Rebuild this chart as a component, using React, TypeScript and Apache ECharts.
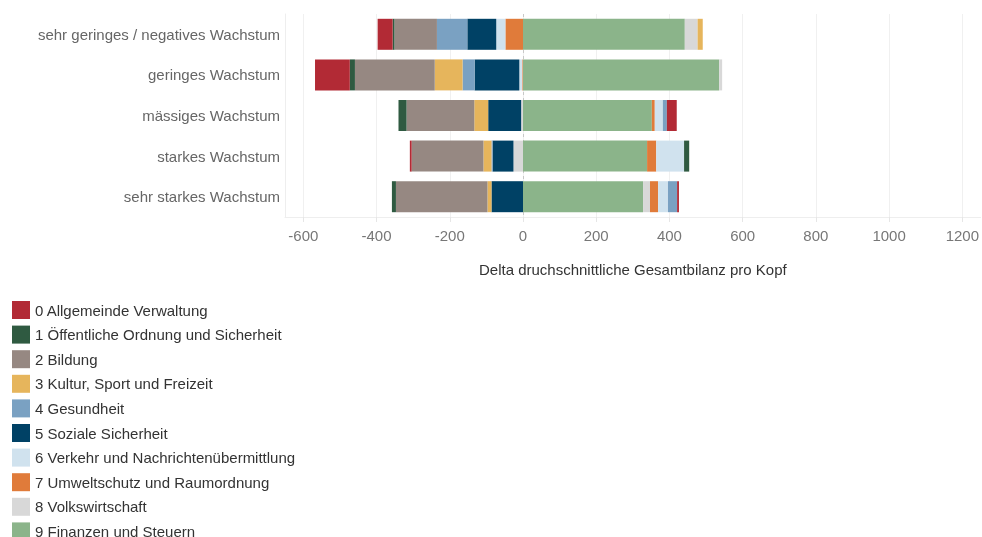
import React, { useEffect, useRef } from "react";
import * as echarts from "echarts";

const categories = [
  "sehr geringes / negatives Wachstum",
  "geringes Wachstum",
  "mässiges Wachstum",
  "starkes Wachstum",
  "sehr starkes Wachstum",
];

const seriesNames = [
  "0 Allgemeinde Verwaltung",
  "1 Öffentliche Ordnung und Sicherheit",
  "2 Bildung",
  "3 Kultur, Sport und Freizeit",
  "4 Gesundheit",
  "5 Soziale Sicherheit",
  "6 Verkehr und Nachrichtenübermittlung",
  "7 Umweltschutz und Raumordnung",
  "8 Volkswirtschaft",
  "9 Finanzen und Steuern",
];

const seriesColors = [
  "#b22a35",
  "#2f5a41",
  "#968882",
  "#e6b55c",
  "#7aa1c2",
  "#004165",
  "#d0e2ee",
  "#e07b3a",
  "#d8d8d8",
  "#8bb48a",
];

const s0 = [-41, -95, 27, -5, 5];
const s1 = [-5, -14, -22, 14, -11];
const s2 = [-116, -218, -185, -196, -250];
const s3 = [14, -76, -38, -22, -11];
const s4 = [-83, -33, 11, -3, 25];
const s5 = [-79, -122, -90, -57, -86];
const s6 = [-25, -8, 22, 76, 27];
const s7 = [-48, -2, 8, 25, 22];
const s8 = [35, 8, -5, -26, 19];
const s9 = [442, 536, 352, 339, 328];

const seriesValues = [s0, s1, s2, s3, s4, s5, s6, s7, s8, s9];

const xTicks = [-600, -400, -200, 0, 200, 400, 600, 800, 1000, 1200];
const xMin = -650;
const xMax = 1250;
const zeroLine = 0;

export default function App() {
  const ref = useRef<HTMLDivElement>(null);
  useEffect(() => {
    if (!ref.current) return;
    const chart = echarts.init(ref.current, null, { renderer: "svg" });
    const font = "Liberation Sans, Arial, sans-serif";
    // stack order: series 9 sits closest to zero
    const order = [9, 8, 7, 6, 5, 4, 3, 2, 1, 0];
    const series: any[] = order.map((i, k) => {
      const s: any = {
        name: seriesNames[i],
        type: "bar",
        stack: "total",
        barWidth: 31,
        itemStyle: { color: seriesColors[i] },
        data: seriesValues[i],
      };
      if (k === 0) {
        s.markLine = {
          silent: true,
          symbol: "none",
          z: 1,
          label: { show: false },
          lineStyle: { color: "#c8c8c8", type: [3, 3], width: 1 },
          data: [{ xAxis: zeroLine }],
        };
      }
      return s;
    });
    const legendCommon = {
      orient: "vertical",
      left: 12,
      padding: 0,
      itemWidth: 18,
      itemHeight: 18,
      itemGap: 6.6,
      icon: "rect",
      selectedMode: false,
      textStyle: { color: "#333", fontSize: 15, fontFamily: font },
    };
    chart.setOption({
      animation: false,
      textStyle: { fontFamily: font },
      grid: { left: 285, top: 14, width: 697, height: 203, containLabel: false },
      legend: [
        { ...legendCommon, data: seriesNames.slice(0, 9), top: 301 },
        { ...legendCommon, data: seriesNames.slice(9), top: 301 + 9 * 24.6 },
      ],
      xAxis: {
        type: "value",
        min: xMin,
        max: xMax,
        name: "Delta druchschnittliche Gesamtbilanz pro Kopf",
        nameLocation: "middle",
        nameGap: 45,
        nameTextStyle: { color: "#333", fontSize: 15, fontFamily: font },
        axisLine: { show: true, lineStyle: { color: "#eeeeee" } },
        axisTick: {
          show: true,
          length: 5,
          customValues: xTicks,
          lineStyle: { color: "#e6e6e6" },
        },
        axisLabel: {
          customValues: xTicks,
          color: "#777",
          fontSize: 15,
          margin: 11,
          fontFamily: font,
          formatter: (v: number) => String(v),
        },
        splitLine: { show: true, lineStyle: { color: "#f0f0f0" } },
      },
      yAxis: {
        type: "category",
        data: categories,
        inverse: true,
        axisLine: { show: true, onZero: false, lineStyle: { color: "#eeeeee" } },
        axisTick: { show: false },
        axisLabel: { color: "#666", fontSize: 15, margin: 5, fontFamily: font },
        splitLine: { show: false },
      },
      series,
    });
    return () => chart.dispose();
  }, []);
  return (
    <div
      ref={ref}
      style={{ position: "fixed", left: 0, top: 0, width: 982, height: 537 }}
    />
  );
}
